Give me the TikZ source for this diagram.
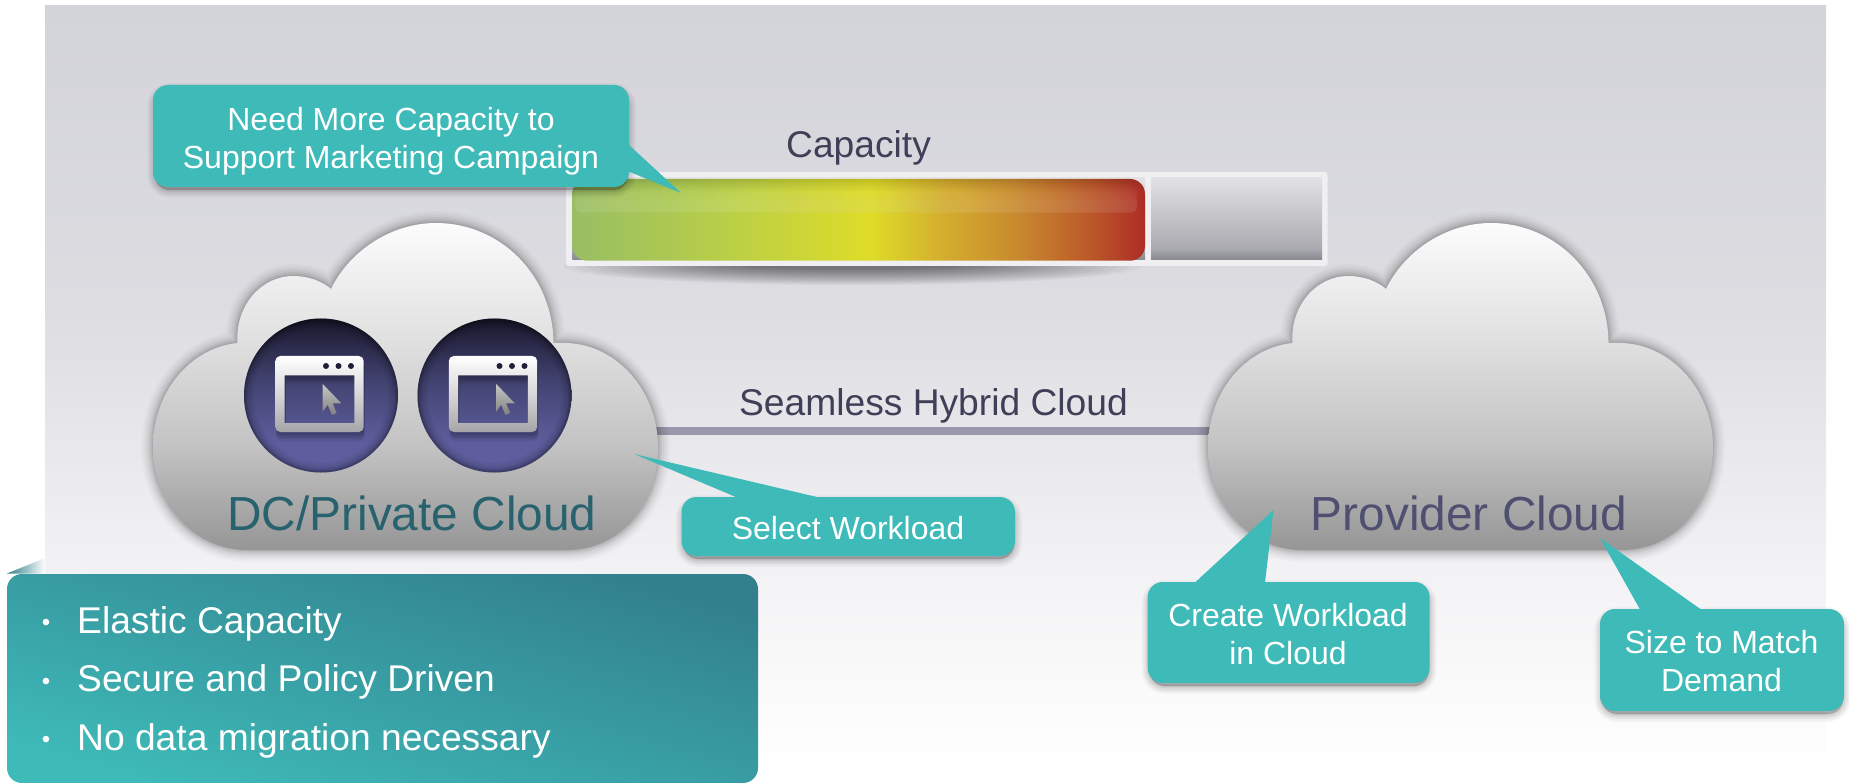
\documentclass[tikz,border=0pt]{standalone}
\usepackage{fontspec}
\setmainfont{Liberation Sans}
\definecolor{teal1}{HTML}{3EBAB8}
\definecolor{teal2}{HTML}{32808E}
\definecolor{foldc}{HTML}{2F7F88}
\definecolor{inkA}{HTML}{3F3F58}
\definecolor{inkB}{HTML}{28626E}
\definecolor{inkC}{HTML}{4F4F72}
\definecolor{framec}{HTML}{F0F0F2}
\definecolor{linkc}{HTML}{9A98AC}
\definecolor{dotc}{HTML}{1F1F3A}
\pgfdeclareverticalshading{bgshade}{100bp}{color(0bp)=(white);color(25bp)=(white);color(30.3bp)=(white!97!gray);color(40bp)=(rgb,255:red,241;green,241;blue,244);color(56bp)=(rgb,255:red,220;green,220;blue,225);color(75bp)=(rgb,255:red,211;green,212;blue,218);color(100bp)=(rgb,255:red,211;green,212;blue,218)}
\pgfdeclareverticalshading{cloudshade}{100bp}{color(0bp)=(rgb,255:red,150;green,150;blue,150);color(25bp)=(rgb,255:red,150;green,150;blue,150);color(33bp)=(rgb,255:red,172;green,172;blue,172);color(41bp)=(rgb,255:red,195;green,195;blue,195);color(57bp)=(rgb,255:red,224;green,224;blue,224);color(75bp)=(rgb,255:red,252;green,252;blue,252);color(100bp)=(rgb,255:red,252;green,252;blue,252)}
\pgfdeclareverticalshading{discshade}{100bp}{color(0bp)=(rgb,255:red,96;green,96;blue,162);color(25bp)=(rgb,255:red,96;green,96;blue,162);color(36bp)=(rgb,255:red,92;green,92;blue,155);color(55bp)=(rgb,255:red,66;green,66;blue,112);color(75bp)=(rgb,255:red,24;green,24;blue,44);color(100bp)=(rgb,255:red,24;green,24;blue,44)}
\pgfdeclareverticalshading{iconshade}{100bp}{color(0bp)=(rgb,255:red,165;green,165;blue,168);color(25bp)=(rgb,255:red,165;green,165;blue,168);color(50bp)=(rgb,255:red,215;green,215;blue,218);color(75bp)=(white);color(100bp)=(white)}
\pgfdeclareverticalshading{slotshade}{100bp}{color(0bp)=(rgb,255:red,135;green,135;blue,142);color(25bp)=(rgb,255:red,135;green,135;blue,142);color(32bp)=(rgb,255:red,170;green,170;blue,176);color(75bp)=(rgb,255:red,226;green,226;blue,229);color(100bp)=(rgb,255:red,226;green,226;blue,229)}
\pgfdeclarehorizontalshading{barshade}{100bp}{color(0bp)=(rgb,255:red,152;green,190;blue,100);color(25bp)=(rgb,255:red,152;green,190;blue,100);color(38bp)=(rgb,255:red,184;green,206;blue,72);color(51bp)=(rgb,255:red,222;green,220;blue,40);color(57bp)=(rgb,255:red,212;green,176;blue,46);color(64bp)=(rgb,255:red,200;green,136;blue,46);color(70bp)=(rgb,255:red,188;green,90;blue,42);color(75bp)=(rgb,255:red,174;green,44;blue,38);color(100bp)=(rgb,255:red,174;green,44;blue,38)}
\tikzset{
  calltext/.style={text=white,font=\fontsize{32}{38}\selectfont,align=center,inner sep=0pt},
  listtext/.style={text=white,font=\fontsize{37.2}{44}\selectfont,anchor=base west,inner sep=0pt},
  listdot/.style={text=white,font=\fontsize{24}{28}\selectfont,anchor=base,inner sep=0pt},
  cloudlabel/.style={font=\fontsize{47.8}{55}\selectfont,anchor=base,inner sep=0pt},
  headtext/.style={text=inkA,font=\fontsize{37.2}{44}\selectfont,anchor=base,inner sep=0pt},
  cloudshape/.style={shading=cloudshade},
  linkline/.style={draw=linkc,line width=8pt}
}
\newcommand{\calloutbox}[4]{%
  \foreach \wd/\op in {16/.025,13/.03,10/.035,7/.04,4/.05,1/.05}{
    \draw[black,opacity=\op,line width=\wd pt,fill=black,rounded corners=15pt] (#1+2,#2+6) rectangle (#3-1,#4+3);
  }
  \fill[teal1,rounded corners=15pt] (#1,#2) rectangle (#3,#4);
}
\newcommand{\cloudpath}{(247,550) .. controls (195,550) and (153,505) .. (153,447) .. controls (153,392) and (190,348) .. (237.5,343) .. controls (235,305) and (262,276) .. (293,276) .. controls (308,276) and (322,281) .. (331,289) .. controls (350,250) and (392,223) .. (436,223) .. controls (500,223) and (553,275) .. (553.5,343) -- (567,343) .. controls (618,345) and (658,392) .. (658,447) .. controls (658,505) and (620,550) .. (567,550) -- cycle}
\newcommand{\cloudfull}{%
  \foreach \wd/\op in {24/.02,20/.025,16/.03,12/.04,8/.05,5/.06,2/.06}{
    \draw[black,opacity=\op,line width=\wd pt,line join=round] \cloudpath;
  }
  \shade[cloudshape] \cloudpath;
}
\newcommand{\framepath}{[rounded corners=5pt] (275.3,356) rectangle (363.7,432) [sharp corners] (284.7,375.3) rectangle (354.3,423)}
\newcommand{\appdisc}{%
  \shade[shading=discshade] (321,395.5) circle (77);
  \begin{scope}
    \clip (321,395.5) circle (77);
    \foreach \wd/\op in {20/.04,15/.05,10/.07,6/.1,3/.14}{
      \draw[black,opacity=\op,line width=\wd pt] (321,395.5) circle (77);
    }
  \end{scope}
  \foreach \dy/\op in {3/.08,5/.08,7/.07,9/.06}{
    \fill[black,opacity=\op,even odd rule,yshift=-\dy pt,xshift=1pt] \framepath;
  }
  \shade[shading=iconshade,even odd rule] \framepath;
  \fill[dotc] (326,366) circle (3) (338.5,366) circle (3) (351,366) circle (3);
  \shade[top color=white!78!black,bottom color=white!50!black,draw=none]
    (322.7,384) -- (341.3,403.3) -- (332.7,403.5) -- (336.5,413) -- (332,415) -- (327.7,404.7) -- (322.7,411.7) -- cycle;
}
\begin{document}
\begin{tikzpicture}[x=1pt,y=-1pt]
\useasboundingbox (0,0) rectangle (1849,783);
% background
\shade[shading=bgshade] (45,6) rectangle (1826,783);
% capacity bar shadow
\begin{scope}
  \clip (540,266) rectangle (1200,300);
  \foreach \i in {1,...,18}{
    \fill[black,opacity=.032] (852,266) ellipse ({300-\i*11} and {20-\i*0.95});
  }
\end{scope}
\fill[framec,rounded corners=3pt] (566,172) rectangle (1327.6,266);
\shade[shading=slotshade] (572.4,178) rectangle (1145,260);
\shade[shading=slotshade] (1151,178) rectangle (1322,260);
\begin{scope}
  \clip[rounded corners=15pt] (572.4,179) rectangle (1145,260.7);
  \shade[shading=barshade] (572.4,179) rectangle (1145,260.7);
  \foreach \yy in {184,188,192,196,200}{
    \fill[white,opacity=.022,rounded corners=6pt] (575,\yy) rectangle (1137,212.7);
  }
  \foreach \yy/\op in {179/.13,181/.1,183/.08,185/.06,187/.04,189/.02}{
    \fill[black,opacity=\op] (572,\yy) rectangle (1145,\yy+2);
  }
\end{scope}
\node[headtext] (cap) at (858.5,158) {Capacity};
% clouds
\coordinate (dcedge) at (655,431);
\coordinate (provedge) at (1212,431);
\draw[linkline] (dcedge) -- (provedge);
\node[headtext] (hybrid) at (933.5,415) {Seamless Hybrid Cloud};
\cloudfull
\begin{scope}[xshift=1055pt]\cloudfull\end{scope}
\appdisc
\begin{scope}[xshift=173.5pt]\appdisc\end{scope}
\node[cloudlabel,text=inkB] (dc) at (412,530) {DC/Private Cloud};
\node[cloudlabel,text=inkC] (prov) at (1469,530) {Provider Cloud};
% fold and bullet box
\shade[left color=foldc,right color=white] (7,573.5) -- (45,558) -- (45,573.5) -- cycle;
\shade[bottom color=teal1,top color=teal2,shading angle=-15.5,rounded corners=15pt]
 (7,574) -- (758,574) -- (758,783) -- (7,783) -- cycle;
\node[listdot] (b1) at (46,630.5) {•};
\node[listdot] (b2) at (46,689) {•};
\node[listdot] (b3) at (46,747.5) {•};
\node[listtext] (l1) at (77,633) {Elastic Capacity};
\node[listtext] (l2) at (77,691.5) {Secure and Policy Driven};
\node[listtext] (l3) at (77,750) {No data migration necessary};
% callouts
\calloutbox{153}{85}{629}{187}
\fill[teal1] (625,145) -- (629,145) -- (681,193) -- (625,170) -- cycle;
\node[calltext] (c1) at (391,141.5) {Need More Capacity to\\Support Marketing Campaign};
\calloutbox{681.5}{497}{1015}{556}
\fill[teal1] (634,454) -- (819,497.5) -- (737,497.5) -- cycle;
\node[calltext] (c2) at (848,528) {Select Workload};
\calloutbox{1147.7}{582}{1429.6}{683}
\fill[teal1] (1195,582.5) -- (1273.5,510) -- (1265,582.5) -- cycle;
\node[calltext] (c3) at (1288,634.5) {Create Workload\\in Cloud};
\calloutbox{1600}{609}{1844}{711}
\fill[teal1] (1640,609.5) -- (1600,538) -- (1701,609.5) -- cycle;
\node[calltext] (c4) at (1721.5,661) {Size to Match\\Demand};
\end{tikzpicture}
\end{document}
